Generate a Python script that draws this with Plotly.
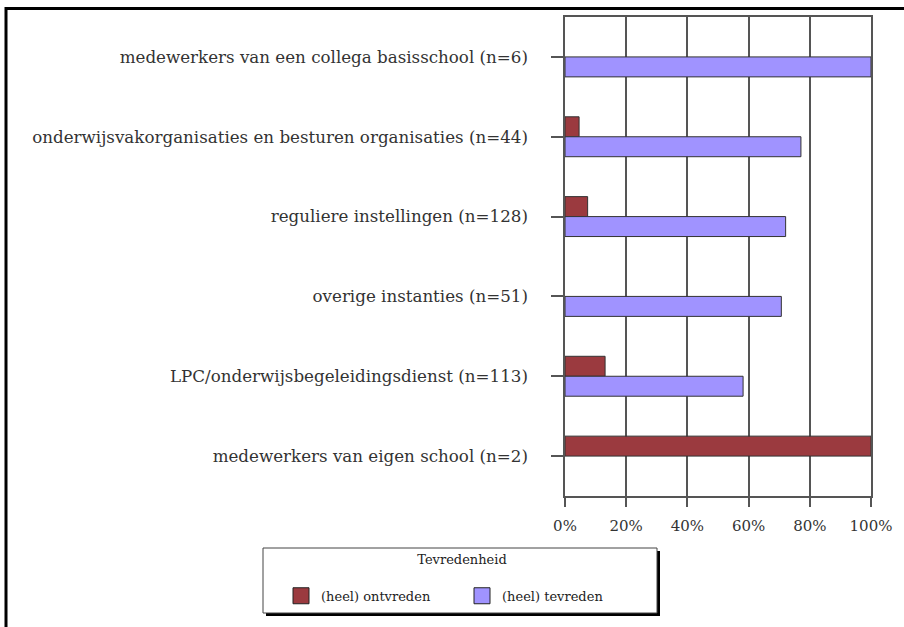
import plotly.graph_objects as go

categories = [
    "medewerkers van een collega basisschool (n=6)",
    "onderwijsvakorganisaties en besturen organisaties (n=44)",
    "reguliere instellingen (n=128)",
    "overige instanties (n=51)",
    "LPC/onderwijsbegeleidingsdienst (n=113)",
    "medewerkers van eigen school (n=2)",
]
ontvreden = [0, 4.6, 7.4, 0, 13.1, 100]
tevreden = [100, 77.1, 72.1, 70.7, 58.2, 0]
series_names = ["(heel) ontvreden", "(heel) tevreden"]
series_colors = ["#9B3A3F", "#A093FF"]
legend_title = "Tevredenheid"
tick_vals = [0, 20, 40, 60, 80, 100]
tick_text = ["0%", "20%", "40%", "60%", "80%", "100%"]

W, H = 904, 627
L, R, T, B = 565, 871, 17, 496

FONT = "DejaVu Serif, serif"

def nz(vals):
    return [v if v else None for v in vals]

fig = go.Figure()
for name, vals, col in zip(series_names, [ontvreden, tevreden], series_colors):
    fig.add_trace(go.Bar(y=categories, x=nz(vals), orientation="h", name=name,
                         legendgroup=name, showlegend=False,
                         marker=dict(color=col, line=dict(color="#333333", width=1))))
# legend entries with larger square swatches
for name, col in zip(series_names, series_colors):
    fig.add_trace(go.Scatter(x=[None], y=[None], mode="markers", name=name, legendgroup=name,
                             marker=dict(symbol="square", size=16, color=col,
                                         line=dict(color="#222222", width=1))))

def px_x(p):
    return (p - L) / (R - L)

def px_y(p):
    return (B - p) / (B - T)

shapes = [
    dict(type="rect", xref="paper", yref="paper", x0=px_x(6), x1=px_x(910), y0=px_y(640), y1=px_y(8.5),
         line=dict(color="black", width=3), layer="below"),
    dict(type="rect", xref="paper", yref="paper", x0=px_x(266), x1=px_x(660), y0=px_y(616), y1=px_y(551),
         line=dict(width=0), fillcolor="black", layer="below"),
    dict(type="rect", xref="paper", yref="paper", x0=px_x(263), x1=px_x(657), y0=px_y(613), y1=px_y(548),
         line=dict(color="#444444", width=1), fillcolor="white", layer="below"),
]

fig.update_layout(
    width=W, height=H,
    margin=dict(l=L, r=W - R, t=T, b=H - B, pad=0),
    paper_bgcolor="white", plot_bgcolor="white",
    barmode="group", bargap=0.5, bargroupgap=0,
    font=dict(family=FONT, color="#222222"),
    shapes=shapes,
    showlegend=True,
    legend=dict(
        orientation="h",
        x=px_x(281), xanchor="left",
        y=px_y(547), yanchor="top",
        bgcolor="rgba(0,0,0,0)", borderwidth=0,
        title=dict(text=legend_title + "<br> ", side="top center",
                   font=dict(size=13, family=FONT, color="#222")),
        font=dict(size=13, family=FONT, color="#222"),
        entrywidth=136, itemsizing="trace",
    ),
)
fig.update_xaxes(
    range=[0, 100], tickvals=tick_vals, ticktext=tick_text,
    showgrid=True, gridcolor="#555555", gridwidth=1.5,
    showline=True, linecolor="#555555", linewidth=1.5, mirror=True,
    ticks="outside", ticklen=9, tickcolor="#555555", tickwidth=1.5,
    tickfont=dict(size=15, family=FONT, color="#333"),
    ticklabelstandoff=6,
    zeroline=False, fixedrange=True,
)
fig.update_yaxes(
    autorange="reversed",
    showline=True, linecolor="#555555", linewidth=1.5, mirror=True,
    ticks="outside", ticklen=12, tickcolor="#555555", tickwidth=1.5,
    tickfont=dict(size=16.7, family=FONT, color="#333"),
    ticklabelstandoff=20,
    showgrid=False, fixedrange=True,
)

fig.write_html("out.html")
